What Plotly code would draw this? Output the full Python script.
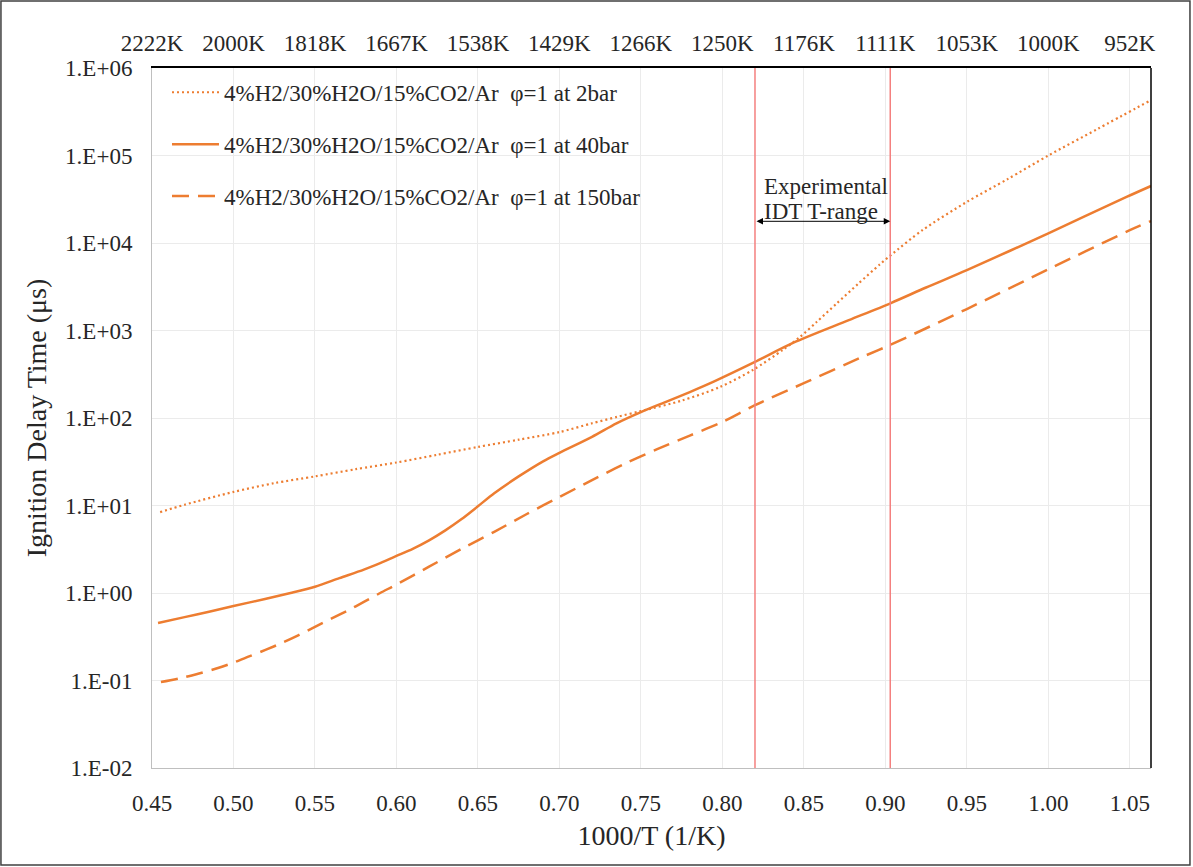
import plotly.graph_objects as go

# Inverse temperature (1000/T, 1/K) and ignition delay time (µs) for each pressure
x_2bar = [0.455, 0.47, 0.50, 0.525, 0.55, 0.575, 0.60, 0.625, 0.65, 0.675, 0.70,
          0.72, 0.7353, 0.75, 0.775, 0.7985, 0.8187, 0.837, 0.8476, 0.858, 0.8702,
          0.8834, 0.8966, 0.9034, 0.923, 0.95, 0.975, 1.00, 1.03, 1.063]
idt_2bar = [8.4, 10.2, 14.3, 18, 21.5, 26, 31, 38, 46.7, 56.5, 69,
            87, 103, 120, 158, 226, 354, 598, 843, 1259, 2042,
            3428, 5689, 7278, 14125, 29512, 53700, 100000, 200000, 430000]

x_40bar = [0.4537, 0.47, 0.485, 0.50, 0.52, 0.535, 0.55, 0.565, 0.58, 0.59, 0.60,
           0.61, 0.62, 0.63, 0.64, 0.65, 0.66, 0.675, 0.69, 0.70, 0.72, 0.735,
           0.75, 0.765, 0.78, 0.795, 0.82, 0.8433, 0.878, 0.9034, 0.925, 0.95,
           1.00, 1.048, 1.063]
idt_40bar = [0.454, 0.53, 0.61, 0.71, 0.86, 1.0, 1.18, 1.48, 1.85, 2.2, 2.65,
             3.2, 4.0, 5.2, 7.0, 9.8, 13.8, 21.5, 32, 40, 61, 87,
             117, 152, 198, 262, 437, 720, 1320, 2060, 3100, 4900,
             12900, 33600, 44800]

x_150bar = [0.4555, 0.47, 0.48, 0.49, 0.50, 0.51, 0.52, 0.53, 0.54, 0.55, 0.56,
            0.57, 0.58, 0.59, 0.60, 0.62, 0.64, 0.66, 0.68, 0.70, 0.72, 0.74,
            0.76, 0.78, 0.80, 0.82, 0.85, 0.8844, 0.9028, 0.95, 1.00, 1.05, 1.063]
idt_150bar = [0.096, 0.109, 0.122, 0.138, 0.16, 0.19, 0.225, 0.27, 0.33, 0.41, 0.51,
              0.63, 0.79, 1.0, 1.25, 2.0, 3.2, 5.0, 8.0, 12.5, 19.5, 30,
              44, 63, 90, 140, 250, 485, 682, 1760, 5000, 14000, 17800]

series_names = [
    "4%H2/30%H2O/15%CO2/Ar  φ=1 at 2bar",
    "4%H2/30%H2O/15%CO2/Ar  φ=1 at 40bar",
    "4%H2/30%H2O/15%CO2/Ar  φ=1 at 150bar",
]

# Axis ticks
x_ticks = [0.45, 0.50, 0.55, 0.60, 0.65, 0.70, 0.75, 0.80, 0.85, 0.90, 0.95, 1.00, 1.05]
temp_labels = ["2222K", "2000K", "1818K", "1667K", "1538K", "1429K", "1266K",
               "1250K", "1176K", "1111K", "1053K", "1000K", "952K"]
y_ticks = [1e-2, 1e-1, 1e0, 1e1, 1e2, 1e3, 1e4, 1e5, 1e6]
y_labels = ["1.E-02", "1.E-01", "1.E+00", "1.E+01", "1.E+02", "1.E+03",
            "1.E+04", "1.E+05", "1.E+06"]

# Experimental IDT temperature range (1000/T)
exp_range = [0.82, 0.903]

ORANGE = "#ED7D31"
FONT = "Liberation Serif, Times New Roman, serif"
TEXT = "#262626"
X_RANGE = [0.45, 1.063]

fig = go.Figure()

styles = [dict(dash="2px,3px", width=2.2),
          dict(dash="solid", width=2.5),
          dict(dash="17px,9px", width=2.5)]
data = [(x_2bar, idt_2bar), (x_40bar, idt_40bar), (x_150bar, idt_150bar)]

for i, ((xs, ys), st, name) in enumerate(zip(data, styles, series_names)):
    fig.add_trace(go.Scatter(
        x=xs, y=ys, mode="lines", name=name,
        legendgroup=f"g{i}",
        line=dict(color=ORANGE, width=st["width"], dash=st["dash"],
                  shape="spline", smoothing=0.8),
    ))

# empty trace to carry the top temperature axis
fig.add_trace(go.Scatter(x=[], y=[], xaxis="x2", showlegend=False, hoverinfo="skip"))

# experimental range markers
for xv in exp_range:
    fig.add_shape(type="line", xref="x", yref="paper", x0=xv, x1=xv, y0=0, y1=1,
                  line=dict(color="#F4807F", width=1.5), layer="above")

# right border of plot area
fig.add_shape(type="line", xref="paper", yref="paper", x0=1, x1=1, y0=0, y1=1,
              line=dict(color="#000000", width=1.5))

# outer chart frame
fig.add_shape(type="rect", xref="paper", yref="paper",
              x0=-0.1512, x1=1.039, y0=-0.1386, y1=1.0957,
              line=dict(color="#404040", width=1.5), fillcolor="rgba(0,0,0,0)")

# double arrow spanning the experimental range
fig.add_annotation(x=exp_range[1], y=0.781, xref="x", yref="paper",
                   ax=exp_range[0], ay=0, axref="x", ayref="pixel",
                   text="", showarrow=True, arrowhead=2, startarrowhead=2,
                   arrowside="end+start", arrowsize=1.3, arrowwidth=1,
                   arrowcolor="#000000")
range_font = dict(family=FONT, size=23, color=TEXT)
fig.add_annotation(x=0.8242, y=0.8314, xref="x", yref="paper", text="Experimental",
                   showarrow=False, xanchor="left", yanchor="middle", font=range_font)
fig.add_annotation(x=0.8242, y=0.7943, xref="x", yref="paper", text="IDT T-range",
                   showarrow=False, xanchor="left", yanchor="middle", font=range_font)

axis_font = dict(family=FONT, size=23, color=TEXT)
title_font = dict(family=FONT, size=28, color=TEXT)

fig.update_layout(
    width=1193, height=867, autosize=False,
    margin=dict(l=152, r=42, t=68, b=99),
    paper_bgcolor="white", plot_bgcolor="white",
    showlegend=True,
    legend=dict(x=0.015, y=0.996, xanchor="left", yanchor="top",
                font=dict(family=FONT, size=23, color=TEXT),
                bgcolor="rgba(0,0,0,0)", tracegroupgap=19, itemwidth=47),
    xaxis=dict(range=X_RANGE, tickvals=x_ticks, ticktext=[f"{v:.2f}" for v in x_ticks],
               showgrid=True, gridcolor="#EBEBEB", gridwidth=1,
               showline=True, linecolor="#BFBFBF", linewidth=1,
               ticks="outside", ticklen=14, tickcolor="rgba(0,0,0,0)",
               zeroline=False, tickfont=axis_font,
               title=dict(text="1000/T (1/K)", font=title_font, standoff=10)),
    xaxis2=dict(range=X_RANGE, overlaying="x", side="top", tickvals=x_ticks,
                ticktext=temp_labels, showgrid=False, showline=True,
                linecolor="#000000", linewidth=1.5, ticks="outside", ticklen=6,
                tickcolor="rgba(0,0,0,0)", zeroline=False, tickfont=axis_font),
    yaxis=dict(type="log", range=[-2, 6], tickvals=y_ticks, ticktext=y_labels,
               showgrid=True, gridcolor="#EBEBEB", gridwidth=1,
               showline=True, linecolor="#BFBFBF", linewidth=1,
               ticks="outside", ticklen=14, tickcolor="rgba(0,0,0,0)",
               zeroline=False, tickfont=axis_font,
               title=dict(text="Ignition Delay Time (μs)", font=title_font, standoff=10)),
)

fig.write_html("out.html")
